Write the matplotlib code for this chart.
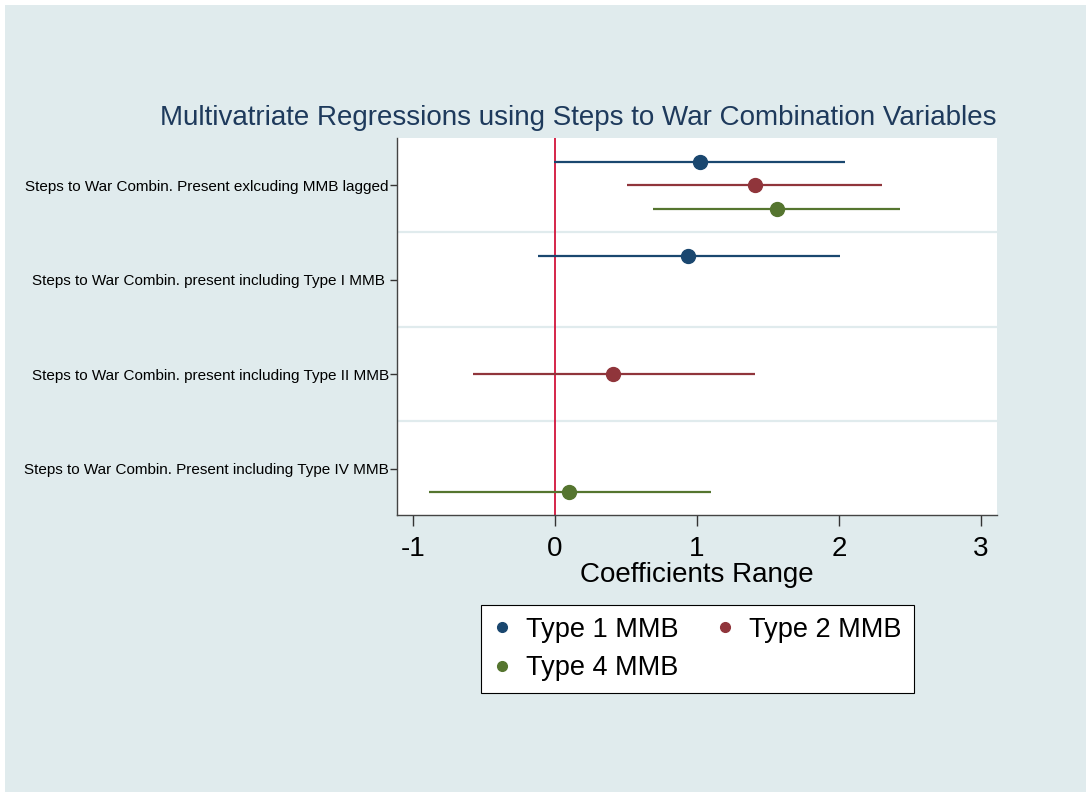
import numpy as np
import matplotlib.pyplot as plt
from matplotlib.patches import Rectangle

plt.rcParams['font.family'] = ['Liberation Sans', 'DejaVu Sans']

categories = [
    "Steps to War Combin. Present exlcuding MMB lagged",
    "Steps to War Combin. present including Type I MMB ",
    "Steps to War Combin. present including Type II MMB",
    "Steps to War Combin. Present including Type IV MMB",
]

# coefficient estimates with lower / upper bounds, by category index
t1_cat = [0, 1]
t1_coef = [1.02, 0.94]
t1_lo = [-0.01, -0.12]
t1_hi = [2.04, 2.01]

t2_cat = [0, 2]
t2_coef = [1.41, 0.41]
t2_lo = [0.51, -0.58]
t2_hi = [2.30, 1.41]

t4_cat = [0, 3]
t4_coef = [1.56, 0.10]
t4_lo = [0.69, -0.89]
t4_hi = [2.43, 1.10]

xticks = [-1, 0, 1, 2, 3]

bg = '#e0ebed'
fig = plt.figure(figsize=(10.92, 7.96), dpi=100, facecolor='white')
fig.patches.append(Rectangle((5 / 1092, 4 / 796), 1081 / 1092, 787 / 796,
                             transform=fig.transFigure, facecolor=bg,
                             edgecolor='none', zorder=-10))

ax = fig.add_axes([397 / 1092, 1 - 515 / 796, 600 / 1092, 377 / 796])
ax.set_facecolor('white')

series = [
    ("Type 1 MMB", t1_cat, t1_coef, t1_lo, t1_hi, '#1a476f', -0.25),
    ("Type 2 MMB", t2_cat, t2_coef, t2_lo, t2_hi, '#90353b', 0.0),
    ("Type 4 MMB", t4_cat, t4_coef, t4_lo, t4_hi, '#55752f', 0.25),
]

handles = {}
for name, cat, coef, lo, hi, col, off in series:
    y = np.array(cat) + 1 + off
    ax.hlines(y, lo, hi, color=col, lw=1.6, zorder=3)
    h, = ax.plot(coef, y, 'o', color=col, ms=10, zorder=4, label=name)
    handles[name] = h

ax.axvline(0, color='#d2143a', lw=1.3, zorder=2)
for g in [1.5, 2.5, 3.5]:
    ax.axhline(g, color=bg, lw=1.6, zorder=1)

ax.set_xlim(-1.113, 3.113)
ax.set_ylim(4.49, 0.5)
ax.set_xticks(xticks)
ax.set_xticklabels([str(v) for v in xticks], fontsize=20)
ax.set_yticks([1, 2, 3, 4])
ax.set_yticklabels(categories, fontsize=11)
ax.tick_params(axis='x', length=8, width=1, color='#333333', pad=7)
ax.tick_params(axis='y', length=5, width=1, color='#333333', pad=1)
ax.set_xlabel("Coefficients Range", fontsize=20, labelpad=0)

for s in ['top', 'right']:
    ax.spines[s].set_visible(False)
for s in ['left', 'bottom']:
    ax.spines[s].set_color('#444444')
    ax.spines[s].set_linewidth(1)

fig.text(578 / 1092, 1 - 118 / 796,
         "Multivatriate Regressions using Steps to War Combination Variables",
         ha='center', va='center', fontsize=20, color='#1e3a5c')

order = ["Type 1 MMB", "Type 4 MMB", "Type 2 MMB"]
leg_handles = [plt.Line2D([], [], ls='none', marker='o', ms=7,
                          color=handles[n].get_color()) for n in order]
leg = fig.legend(leg_handles, order, loc='center', ncol=2,
                 bbox_to_anchor=(697.5 / 1092, 1 - 649 / 796),
                 fontsize=19.5, frameon=True, fancybox=False,
                 edgecolor='black', facecolor='white', framealpha=1,
                 handlelength=0.6, handletextpad=0.6, columnspacing=1.4,
                 labelspacing=0.45, borderpad=0.45)
leg.get_frame().set_linewidth(0.8)

fig.savefig('out.png', dpi=100, facecolor=fig.get_facecolor())
